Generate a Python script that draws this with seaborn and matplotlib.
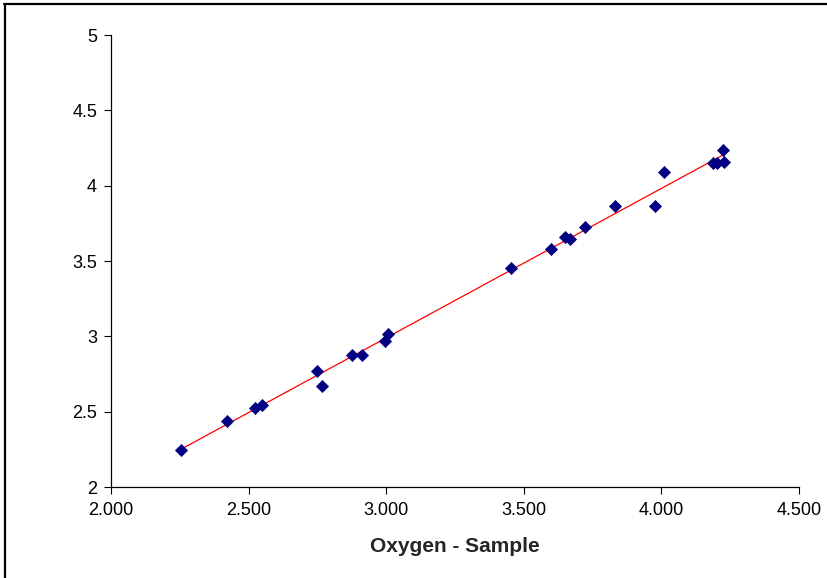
import numpy as np
import pandas as pd
import matplotlib
matplotlib.use("Agg")
import matplotlib.pyplot as plt
import seaborn as sns
from matplotlib.lines import Line2D
from matplotlib.ticker import FormatStrFormatter, FuncFormatter

# values
oxygen_sample = [2.253, 2.420, 2.523, 2.548, 2.750, 2.766, 2.877, 2.911, 2.996, 3.005,
                 3.452, 3.598, 3.650, 3.668, 3.721, 3.833, 3.977, 4.010, 4.186, 4.201,
                 4.229, 4.223]
oxygen_ref = [2.244, 2.440, 2.522, 2.544, 2.770, 2.672, 2.878, 2.878, 2.971, 3.015,
              3.456, 3.578, 3.661, 3.646, 3.726, 3.865, 3.863, 4.089, 4.152, 4.152,
              4.155, 4.235]
x_ticks = [2.0, 2.5, 3.0, 3.5, 4.0, 4.5]
y_ticks = [2, 2.5, 3, 3.5, 4, 4.5, 5]

df = pd.DataFrame({"sample": oxygen_sample, "ref": oxygen_ref})

sns.set_theme(style="white")
plt.rcParams["font.family"] = ["Liberation Sans", "DejaVu Sans"]

fig = plt.figure(figsize=(8.28, 5.78), dpi=100)
ax = fig.add_axes([111 / 828, 1 - 487 / 578, 688 / 828, 452 / 578])

# linear trendline like the excel one
slope, intercept = np.polyfit(df["sample"], df["ref"], 1)
xs = np.array([df["sample"].min(), df["sample"].max()])
ax.plot(xs, slope * xs + intercept, color="#ff0000", lw=0.9, zorder=2)

sns.scatterplot(data=df, x="sample", y="ref", ax=ax, marker="D", s=38,
                color="#000080", edgecolor="#000080", linewidth=0.5, zorder=3)

ax.set_xlim(2.0, 4.5)
ax.set_ylim(2, 5)
ax.set_xticks(x_ticks)
ax.set_yticks(y_ticks)
ax.xaxis.set_major_formatter(FormatStrFormatter("%.3f"))
ax.yaxis.set_major_formatter(FuncFormatter(lambda v, p: f"{v:g}"))
ax.tick_params(axis="both", direction="out", length=5, width=0.8, color="black",
               labelsize=13, labelcolor="black", bottom=True, left=True)
ax.tick_params(axis="x", pad=6)
ax.tick_params(axis="y", pad=5)

for side in ["top", "right"]:
    ax.spines[side].set_visible(False)
for side in ["left", "bottom"]:
    ax.spines[side].set_color("black")
    ax.spines[side].set_linewidth(0.9)

ax.set_xlabel("Oxygen - Sample", fontsize=15, fontweight="bold", labelpad=13)
ax.set_ylabel("")

# chart area border (only top and left edges show in the crop)
fig.lines.append(Line2D([4 / 828, 1], [1 - 4 / 578, 1 - 4 / 578],
                        transform=fig.transFigure, color="black", lw=1.6))
fig.lines.append(Line2D([5 / 828, 5 / 828], [0, 1 - 4 / 578],
                        transform=fig.transFigure, color="black", lw=1.6))

fig.savefig("out.png", dpi=100)
